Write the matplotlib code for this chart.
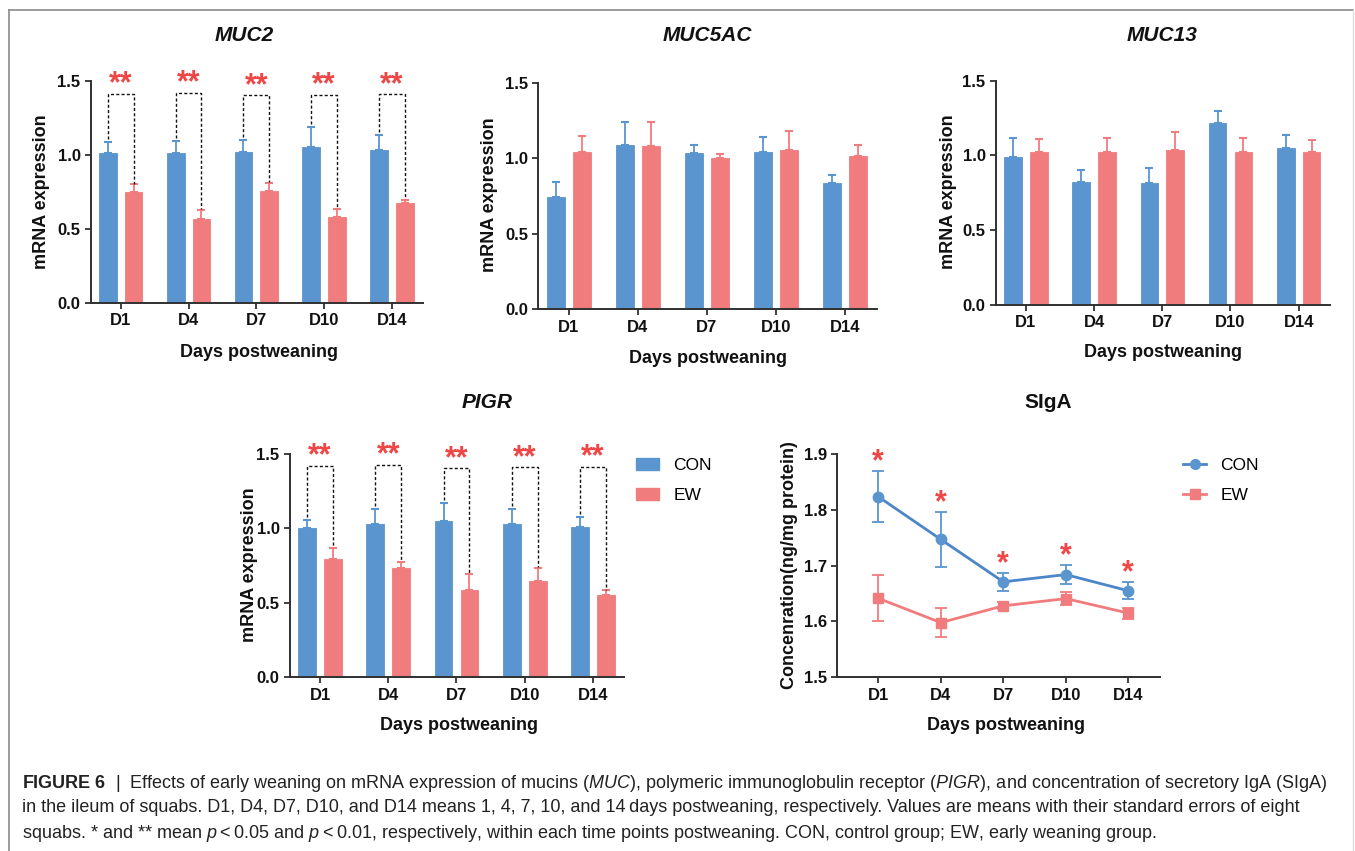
import matplotlib
matplotlib.use('Agg')
import matplotlib.pyplot as plt
import numpy as np
from matplotlib.lines import Line2D
from matplotlib.patches import Patch

plt.rcParams['font.family'] = ['Liberation Sans', 'DejaVu Sans']
plt.rcParams['mathtext.fontset'] = 'custom'
plt.rcParams['mathtext.rm'] = 'Liberation Sans'
plt.rcParams['mathtext.it'] = 'Liberation Sans:italic'
plt.rcParams['mathtext.bf'] = 'Liberation Sans:bold'

# ---------------- data ----------------
days = ['D1', 'D4', 'D7', 'D10', 'D14']
groups = ['CON', 'EW']

muc2_con = [1.010, 1.015, 1.017, 1.051, 1.031]
muc2_con_se = [0.074, 0.079, 0.086, 0.135, 0.103]
muc2_ew = [0.746, 0.564, 0.757, 0.582, 0.672]
muc2_ew_se = [0.054, 0.063, 0.056, 0.051, 0.024]
muc2_sig = ['**', '**', '**', '**', '**']

muc5ac_con = [0.746, 1.086, 1.033, 1.044, 0.836]
muc5ac_con_se = [0.095, 0.157, 0.055, 0.097, 0.055]
muc5ac_ew = [1.042, 1.081, 1.002, 1.057, 1.015]
muc5ac_ew_se = [0.106, 0.157, 0.026, 0.124, 0.071]

muc13_con = [0.990, 0.825, 0.818, 1.215, 1.052]
muc13_con_se = [0.127, 0.078, 0.096, 0.085, 0.087]
muc13_ew = [1.021, 1.023, 1.039, 1.023, 1.021]
muc13_ew_se = [0.091, 0.092, 0.118, 0.094, 0.085]

pigr_con = [1.005, 1.031, 1.050, 1.031, 1.012]
pigr_con_se = [0.049, 0.097, 0.118, 0.099, 0.065]
pigr_ew = [0.794, 0.734, 0.584, 0.649, 0.555]
pigr_ew_se = [0.076, 0.040, 0.110, 0.085, 0.029]
pigr_sig = ['**', '**', '**', '**', '**']

siga_con = [1.8235, 1.747, 1.671, 1.684, 1.655]
siga_con_se = [0.046, 0.049, 0.016, 0.017, 0.015]
siga_ew = [1.6415, 1.598, 1.628, 1.641, 1.615]
siga_ew_se = [0.041, 0.026, 0.006, 0.011, 0.010]
siga_sig = ['*', '*', '*', '*', '*']

# ---------------- style ----------------
W, H = 1355, 851
BLUE = '#5b95cf'
BLUE_LINE = '#4a86c8'
RED = '#f17c7e'
STAR = '#ef4646'
AX = '#303030'
STAR_FS = 22

fig = plt.figure(figsize=(W / 100, H / 100), dpi=100)


def rect(l, r, t, b):
    return [l / W, 1 - b / H, (r - l) / W, (b - t) / H]


def ftext(x, y, s, **kw):
    return fig.text(x / W, 1 - y / H, s, **kw)


def style(ax, ylim, yticks, fmt, xlim):
    for s in ['top', 'right']:
        ax.spines[s].set_visible(False)
    for s in ['left', 'bottom']:
        ax.spines[s].set_color(AX)
        ax.spines[s].set_linewidth(1.4)
    ax.set_ylim(*ylim)
    ax.set_xlim(*xlim)
    ax.set_yticks(yticks)
    ax.set_yticklabels([fmt.format(v) for v in yticks])
    ax.set_xticks(range(len(days)))
    ax.set_xticklabels(days)
    ax.tick_params(direction='out', length=4.5, width=1.3, color=AX,
                   labelsize=12, pad=3, labelcolor='#111111')
    for lab in ax.get_xticklabels() + ax.get_yticklabels():
        lab.set_fontweight('bold')
    ax.set_facecolor('none')


OFF = 0.19
BW = 0.26


def bar_panel(ax, con, con_se, ew, ew_se):
    x = np.arange(len(days))
    for off, m, se, c in [(-OFF, con, con_se, BLUE), (OFF, ew, ew_se, RED)]:
        ax.errorbar(x + off, m, yerr=[np.zeros(len(m)), se], fmt='none',
                    ecolor=c, elinewidth=1.3, capsize=3.2, capthick=1.5,
                    zorder=1, clip_on=False)
        ax.bar(x + off, m, width=BW, color=c, edgecolor=c, linewidth=0.6,
               zorder=2)
    style(ax, (0, 1.5), [0, 0.5, 1.0, 1.5], '{:.1f}', (-0.44, 4.46))


def star(ax, x, y, s, dy):
    ax.annotate(s, xy=(x, y), xytext=(0, dy), textcoords='offset points',
                ha='center', va='baseline', color=STAR, fontsize=STAR_FS,
                fontweight='bold', annotation_clip=False)


def brackets(ax, con, con_se, ew, ew_se, levels, sig):
    for i in range(len(days)):
        xl, xr = i - OFF, i + OFF
        yl = con[i] + con_se[i] + 0.02
        yr = ew[i] + ew_se[i] + 0.005
        ax.plot([xl, xl, xr, xr], [yl, levels[i], levels[i], yr],
                color='#111111', lw=1.0, ls=(0, (2.2, 1.6)), clip_on=False,
                zorder=3)
        star(ax, i, levels[i], sig[i], 1.0)


# MUC2
ax1 = fig.add_axes(rect(91, 423, 80.7, 303))
bar_panel(ax1, muc2_con, muc2_con_se, muc2_ew, muc2_ew_se)
brackets(ax1, muc2_con, muc2_con_se, muc2_ew, muc2_ew_se,
         [1.413, 1.417, 1.401, 1.405, 1.409], muc2_sig)

# MUC5AC
ax2 = fig.add_axes(rect(538.3, 877, 82.7, 309.3))
bar_panel(ax2, muc5ac_con, muc5ac_con_se, muc5ac_ew, muc5ac_ew_se)

# MUC13
ax3 = fig.add_axes(rect(996, 1330, 80.7, 305))
bar_panel(ax3, muc13_con, muc13_con_se, muc13_ew, muc13_ew_se)

# PIGR
ax4 = fig.add_axes(rect(290, 624.3, 454, 677.3))
bar_panel(ax4, pigr_con, pigr_con_se, pigr_ew, pigr_ew_se)
brackets(ax4, pigr_con, pigr_con_se, pigr_ew, pigr_ew_se,
         [1.419, 1.426, 1.403, 1.410, 1.414], pigr_sig)

# SIgA
ax5 = fig.add_axes(rect(837.3, 1160, 454, 677.3))
xs = np.arange(len(days))
ax5.errorbar(xs, siga_ew, yerr=siga_ew_se, color=RED, marker='s', ms=7,
             lw=2, elinewidth=1.3, capsize=4, capthick=1.3, zorder=2)
ax5.errorbar(xs, siga_con, yerr=siga_con_se, color=BLUE_LINE, marker='o',
             ms=7.5, mfc=BLUE, mec=BLUE, ecolor=BLUE, lw=2, elinewidth=1.3,
             capsize=4, capthick=1.3, zorder=3)
for i in range(len(days)):
    star(ax5, i, siga_con[i] + siga_con_se[i], siga_sig[i], 0.5)
style(ax5, (1.5, 1.9), [1.5, 1.6, 1.7, 1.8, 1.9], '{:.1f}', (-0.656, 4.507))

# ---------------- titles & labels ----------------
tkw = dict(ha='center', va='center', fontsize=15, fontweight='bold',
           color='#111111')
ftext(244, 35.5, 'MUC2', style='italic', **tkw)
ftext(707, 35.5, 'MUC5AC', style='italic', **tkw)
ftext(1162, 35.5, 'MUC13', style='italic', **tkw)
ftext(487, 403, 'PIGR', style='italic', **tkw)
ftext(1048, 403, 'SIgA', **tkw)

lkw = dict(ha='center', va='center', fontsize=13, fontweight='bold',
           color='#111111')
ftext(259, 353, 'Days postweaning', **lkw)
ftext(708, 358, 'Days postweaning', **lkw)
ftext(1163, 353, 'Days postweaning', **lkw)
ftext(459, 725, 'Days postweaning', **lkw)
ftext(1006, 725, 'Days postweaning', **lkw)

ftext(42, 192, 'mRNA expression', rotation=90, **lkw)
ftext(490, 195, 'mRNA expression', rotation=90, **lkw)
ftext(949, 192, 'mRNA expression', rotation=90, **lkw)
ftext(249, 565, 'mRNA expression', rotation=90, **lkw)
ftext(789, 565, 'Concenration(ng/mg protein)', rotation=90, **lkw)

# ---------------- legends ----------------
bar_handles = [Patch(facecolor=BLUE, edgecolor=BLUE, label=groups[0]),
               Patch(facecolor=RED, edgecolor=RED, label=groups[1])]
fig.legend(handles=bar_handles, loc='upper left',
           bbox_to_anchor=(636 / W, 1 - 458 / H), frameon=False,
           fontsize=12.5, handlelength=1.35, handleheight=0.7,
           handletextpad=0.8, labelspacing=0.85, borderaxespad=0,
           borderpad=0)

line_handles = [Line2D([], [], color=BLUE_LINE, mfc=BLUE, mec=BLUE,
                       marker='o', ms=7, lw=2, label=groups[0]),
                Line2D([], [], color=RED, marker='s', ms=6.5, lw=2,
                       label=groups[1])]
fig.legend(handles=line_handles, loc='upper left',
           bbox_to_anchor=(1183 / W, 1 - 458 / H), frameon=False,
           fontsize=12.5, handlelength=1.35, handletextpad=0.8,
           labelspacing=0.85, borderaxespad=0, borderpad=0)

# ---------------- frame & caption ----------------
fig.add_artist(Line2D([9 / W, 1353 / W], [1 - 10 / H, 1 - 10 / H],
                      color='#8a8a8a', lw=1.2))
fig.add_artist(Line2D([9 / W, 9 / W], [1 - 10 / H, 0], color='#8a8a8a',
                      lw=1.2))
fig.add_artist(Line2D([1353 / W, 1353 / W], [1 - 10 / H, 0],
                      color='#dddddd', lw=1.0))

ckw = dict(ha='left', va='center', fontsize=13.0, color='#222222')
ftext(22, 783, r'$\mathbf{FIGURE\ 6}$  |  Effects of early weaning on mRNA expression of mucins '
      r'($\mathit{MUC}$), polymeric immunoglobulin receptor ($\mathit{PIGR}$), '
      r'and concentration of secretory IgA (SIgA)', **ckw)
ftext(22, 808, 'in the ileum of squabs. D1, D4, D7, D10, and D14 means 1, 4, 7, 10, '
      'and 14\u2009days postweaning, respectively. Values are means with their '
      'standard errors of eight', **ckw)
ftext(22, 833, r'squabs. * and ** mean $\mathit{p}$' + '\u2009<\u20090.05 and '
      r'$\mathit{p}$' + '\u2009<\u20090.01, respectively, within each time points '
      'postweaning. CON, control group; EW, early weaning group.', **ckw)

fig.savefig('out.png', dpi=100)
